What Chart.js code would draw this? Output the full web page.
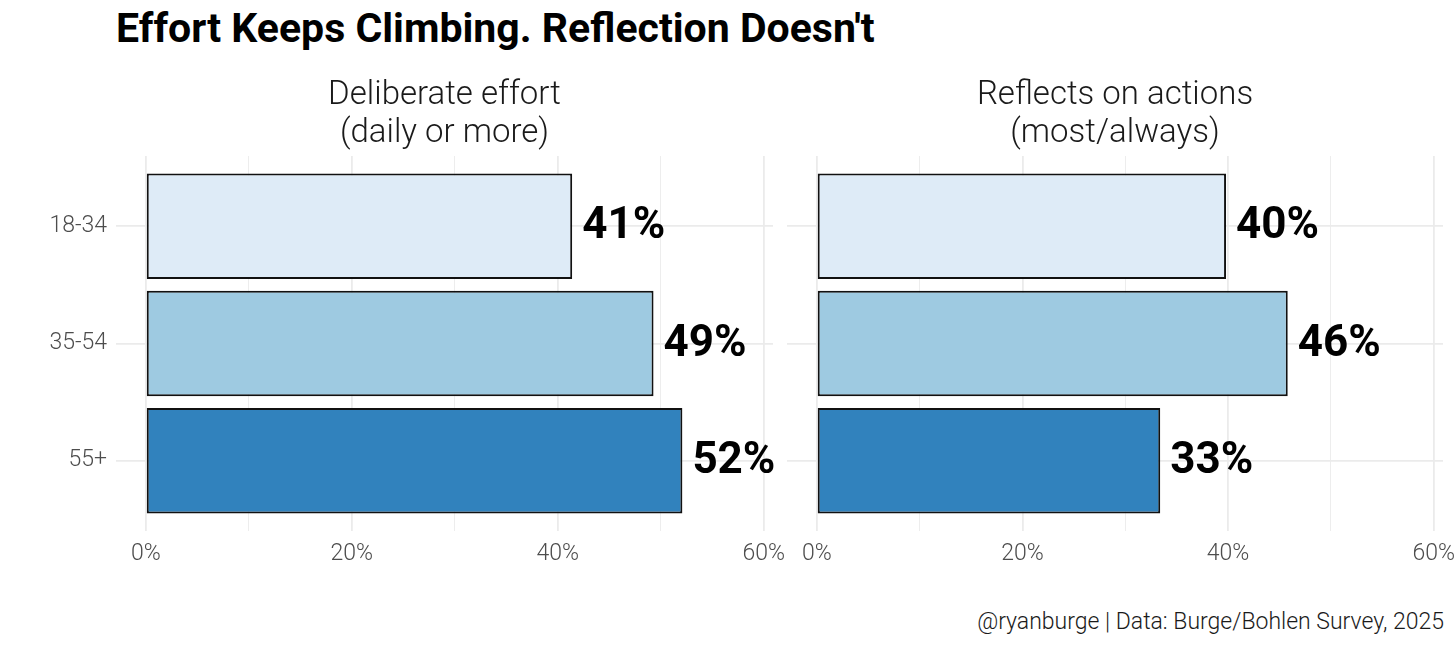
<!DOCTYPE html>
<html>
<head>
<meta charset="utf-8">
<script src="https://cdn.jsdelivr.net/npm/chart.js"></script>
<style>
html,body{margin:0;padding:0;background:#fff;}
#wrap{position:relative;width:1456px;height:647px;overflow:hidden;font-family:"Roboto",sans-serif;}
#title{position:absolute;left:116px;top:8px;font-size:41px;line-height:1;font-weight:bold;color:#000;white-space:nowrap;}
#caption{position:absolute;right:12px;top:610px;font-size:23px;line-height:1;font-weight:300;color:#1a1a1a;white-space:nowrap;}
#c1box{position:absolute;left:0;top:60px;width:786px;height:511px;}
#c2box{position:absolute;left:786px;top:60px;width:670px;height:511px;}
</style>
</head>
<body>
<div id="wrap">
  <div id="title">Effort Keeps Climbing. Reflection Doesn't</div>
  <div id="c1box"><canvas id="c1"></canvas></div>
  <div id="c2box"><canvas id="c2"></canvas></div>
  <div id="caption">@ryanburge | Data: Burge/Bohlen Survey, 2025</div>
</div>
<script>
// ---- data ----
const categories = ['18-34', '35-54', '55+'];
const effortValues = [41.4, 49.3, 52.1];
const reflectValues = [39.8, 45.8, 33.4];
const barColors = ['#DEEBF7', '#9ECAE1', '#3182BD'];
const xTickValues = [0, 10, 20, 30, 40, 50, 60];
const xLabelValues = [0, 20, 40, 60];
const effortTitle = ['Deliberate effort', '(daily or more)'];
const reflectTitle = ['Reflects on actions', '(most/always)'];

const FAMILY = "Roboto, sans-serif";
const GRID = '#ebebeb';

const valueLabels = {
  id: 'valueLabels',
  afterDatasetsDraw(chart) {
    const ctx = chart.ctx;
    const meta = chart.getDatasetMeta(0);
    const ds = chart.data.datasets[0];
    ctx.save();
    ctx.font = 'bold 44px ' + FAMILY;
    ctx.fillStyle = '#000';
    ctx.textAlign = 'left';
    ctx.textBaseline = 'middle';
    meta.data.forEach((bar, i) => {
      ctx.fillText(Math.round(ds.data[i].x) + '%', bar.x + 10, bar.y + 1);
    });
    ctx.restore();
  }
};

function makePanel(id, values, titleLines, showY, pad) {
  return new Chart(document.getElementById(id), {
    type: 'bar',
    data: {
      datasets: [{
        data: values.map((v, i) => ({ x: v, y: i + 1 })),
        backgroundColor: barColors,
        borderColor: '#111',
        borderWidth: 2,
        borderSkipped: false,
        categoryPercentage: 1,
        barPercentage: 0.9
      }]
    },
    options: {
      indexAxis: 'y',
      responsive: true,
      maintainAspectRatio: false,
      animation: false,
      layout: { padding: pad },
      scales: {
        x: {
          type: 'linear',
          min: -2.9,
          max: 60.9,
          afterBuildTicks: s => { s.ticks = xTickValues.map(v => ({ value: v })); },
          afterFit: s => { s.height = 40; s.paddingLeft = 0; s.paddingRight = 0; },
          ticks: {
            autoSkip: false,
            maxRotation: 0,
            padding: 9,
            color: '#4d4d4d',
            font: { family: FAMILY, size: 23, weight: '300' },
            callback: v => xLabelValues.includes(v) ? v + '%' : ''
          },
          grid: {
            color: GRID,
            lineWidth: c => (c.tick && xLabelValues.includes(c.tick.value)) ? 1.8 : 0.9,
            drawTicks: false
          },
          border: { display: false }
        },
        y: {
          type: 'linear',
          reverse: true,
          offset: false,
          min: 0.4,
          max: 3.6,
          afterBuildTicks: s => { s.ticks = categories.map((c, i) => ({ value: i + 1 })); },
          afterFit: s => { s.width = showY ? 116 : 0; s.paddingTop = 0; s.paddingBottom = 0; },
          ticks: {
            display: showY,
            padding: 9,
            color: '#4d4d4d',
            font: { family: FAMILY, size: 23, weight: '300' },
            callback: v => categories[v - 1]
          },
          grid: { color: GRID, lineWidth: 1.8, drawTicks: false, offset: false },
          border: { display: false }
        }
      },
      plugins: {
        legend: { display: false },
        tooltip: { enabled: false },
        title: {
          display: true,
          text: titleLines,
          fullSize: false,
          color: '#1a1a1a',
          font: { family: FAMILY, size: 33, weight: '300', lineHeight: 38 / 33 },
          padding: { top: 17, bottom: 3 }
        }
      }
    },
    plugins: [valueLabels]
  });
}

makePanel('c1', effortValues, effortTitle, true, { left: 0, right: 13, top: 0, bottom: 0 });
makePanel('c2', reflectValues, reflectTitle, false, { left: 1, right: 13, top: 0, bottom: 0 });
</script>
</body>
</html>
